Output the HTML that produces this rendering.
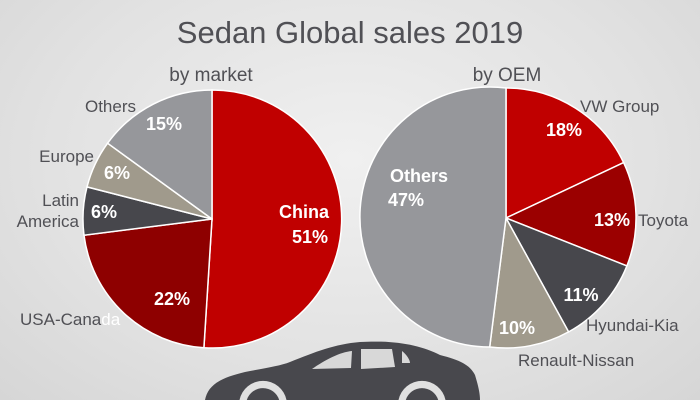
<!DOCTYPE html>
<html><head><meta charset="utf-8"><style>
html,body{margin:0;padding:0;width:700px;height:400px;overflow:hidden}
body{background:radial-gradient(ellipse at 50% 40%,#f0f0f0 0%,#e2e2e2 60%,#d6d6d6 100%);font-family:"Liberation Sans",sans-serif}
svg{display:block}
</style></head><body>
<svg width="700" height="400" viewBox="0 0 700 400" xmlns="http://www.w3.org/2000/svg" font-family="Liberation Sans, sans-serif">
<text x="350" y="43" text-anchor="middle" font-size="31" fill="#505055">Sedan Global sales 2019</text>
<text x="211" y="81" text-anchor="middle" font-size="19" fill="#505055">by market</text>
<text x="507" y="81" text-anchor="middle" font-size="19" fill="#505055">by OEM</text>
<g stroke="#fff" stroke-width="1.5">
<path d="M212,219 L212,90 A129,129 0 1 1 203.9,347.7 Z" fill="#c00000"/>
<path d="M212,219 L203.9,347.7 A129,129 0 0 1 84,235.2 Z" fill="#8e0000"/>
<path d="M212,219 L84,235.2 A129,129 0 0 1 87,186.9 Z" fill="#47474c"/>
<path d="M212,219 L87,186.9 A129,129 0 0 1 107.6,143.2 Z" fill="#a09a8c"/>
<path d="M212,219 L107.6,143.2 A129,129 0 0 1 212,90 Z" fill="#96979b"/>
<path d="M506,218 L506,88 A130,130 0 0 1 623.6,162.6 Z" fill="#c00000"/>
<path d="M506,218 L623.6,162.6 A130,130 0 0 1 626.9,265.9 Z" fill="#9b0000"/>
<path d="M506,218 L626.9,265.9 A130,130 0 0 1 568.6,331.9 Z" fill="#47474c"/>
<path d="M506,218 L568.6,331.9 A130,130 0 0 1 489.7,347 Z" fill="#a09a8c"/>
<path d="M506,218 L489.7,347 A130,130 0 1 1 506,88 Z" fill="#96979b"/>
</g>
<g font-size="18" fill="#fff" font-weight="bold">
<text x="304" y="218" text-anchor="middle">China</text>
<text x="310" y="243" text-anchor="middle">51%</text>
<text x="172" y="305" text-anchor="middle">22%</text>
<text x="104" y="218" text-anchor="middle">6%</text>
<text x="117" y="179" text-anchor="middle">6%</text>
<text x="164" y="130" text-anchor="middle">15%</text>
<text x="564" y="136" text-anchor="middle">18%</text>
<text x="612" y="226" text-anchor="middle">13%</text>
<text x="581" y="301" text-anchor="middle">11%</text>
<text x="517" y="334" text-anchor="middle">10%</text>
<text x="419" y="182" text-anchor="middle">Others</text>
<text x="406" y="206" text-anchor="middle">47%</text>
</g>
<g font-size="17" fill="#505055">
<text x="136" y="112" text-anchor="end">Others</text>
<text x="94" y="162" text-anchor="end">Europe</text>
<text x="79" y="206" text-anchor="end">Latin</text>
<text x="79" y="227" text-anchor="end">America</text>
<text x="20" y="325">USA-Cana<tspan fill="#fff">da</tspan></text>
<text x="580" y="112">VW Group</text>
<text x="638" y="226">Toyota</text>
<text x="586" y="331">Hyundai-Kia</text>
<text x="518" y="366">Renault-Nissan</text>
</g>
<path d="M205,400 C208,385 220,378 245,372 C265,368 280,366 290,362 C315,352 335,344 360,342 C395,340 420,345 440,355 C460,360 470,365 475,375 C478,385 480,393 480,400 Z" fill="#48484d"/>
<path d="M312,369 C325,360 340,352 352,351 L351,368 Z M361,349 L392,349 L395,367 L361,369 Z M402,351 C407,355 410,360 410,363 L402,363 Z" fill="#d8d8d8"/>
<path d="M239.5,400 A24,24 0 0 1 286.5,400 Z" fill="#e0e0e0"/>
<path d="M246.8,400 A17,17 0 0 1 279.2,400 Z" fill="#48484d"/>
<path d="M398.5,400 A24,24 0 0 1 445.5,400 Z" fill="#e0e0e0"/>
<path d="M405.8,400 A17,17 0 0 1 438.2,400 Z" fill="#48484d"/>
</svg>
</body></html>
